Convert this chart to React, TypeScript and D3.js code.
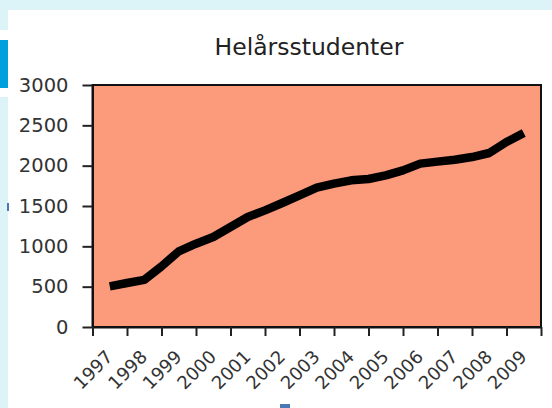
import { useEffect, useRef } from 'react';
import * as d3 from 'd3';

const years = ['1997', '1998', '1999', '2000', '2001', '2002', '2003', '2004', '2005', '2006', '2007', '2008', '2009'];
// half-year points, 1997 .. 2009
const periods = [
  1997, 1997.5, 1998, 1998.5, 1999, 1999.5, 2000, 2000.5, 2001, 2001.5, 2002, 2002.5, 2003,
  2003.5, 2004, 2004.5, 2005, 2005.5, 2006, 2006.5, 2007, 2007.5, 2008, 2008.5, 2009,
];
const students = [
  504, 545, 585, 752, 938, 1033, 1116, 1240, 1364, 1446, 1537, 1632, 1727,
  1777, 1818, 1835, 1880, 1942, 2025, 2050, 2074, 2107, 2157, 2293, 2405,
];
const yTicks = [0, 500, 1000, 1500, 2000, 2500, 3000];

const App = () => {
  const svgRef = useRef<SVGSVGElement>(null);

  useEffect(() => {
    const svg = d3.select(svgRef.current);
    svg.selectAll('*').remove();

    const margin = { top: 85, right: 11, bottom: 81, left: 92.5 };
    const W = 552;
    const H = 408;
    const font = 'DejaVu Sans, Verdana, sans-serif';

    // page background bits around the chart
    svg.append('rect').attr('x', 0).attr('y', 0).attr('width', W).attr('height', H).attr('fill', '#fff');
    svg.append('rect').attr('x', 0).attr('y', 0).attr('width', W).attr('height', 10).attr('fill', '#dcf3f8');
    svg.append('rect').attr('x', 0).attr('y', 0).attr('width', 8).attr('height', 30).attr('fill', '#dcf3f8');
    svg.append('rect').attr('x', 0).attr('y', 40).attr('width', 8).attr('height', 48).attr('fill', '#00a0dc');
    svg.append('rect').attr('x', 0).attr('y', 97).attr('width', 8).attr('height', H - 97).attr('fill', '#dcf3f8');
    svg.append('rect').attr('x', 7).attr('y', 203).attr('width', 2).attr('height', 8).attr('fill', '#4a78b5');
    svg.append('rect').attr('x', 280).attr('y', 404).attr('width', 10).attr('height', 4).attr('fill', '#4a78b5');

    const x = d3.scaleLinear()
      .domain([1996.5, 2009.5])
      .range([margin.left, W - margin.right]);

    const y = d3.scaleLinear()
      .domain([0, 3000])
      .range([H - margin.bottom, margin.top]);

    // plot area
    svg.append('rect')
      .attr('x', x(1996.5))
      .attr('y', y(3000))
      .attr('width', x(2009.5) - x(1996.5))
      .attr('height', y(0) - y(3000))
      .attr('fill', '#fc9a7c')
      .attr('stroke', '#111')
      .attr('stroke-width', 2);

    svg.append('text')
      .attr('x', 309)
      .attr('y', 55)
      .attr('text-anchor', 'middle')
      .attr('font-family', font)
      .attr('font-size', 23.5)
      .attr('fill', '#222')
      .text('Helårsstudenter');

    const yAxis = svg.append('g')
      .attr('transform', `translate(${margin.left}, 0)`)
      .call(d3.axisLeft(y).tickValues(yTicks).tickFormat(d3.format('d')).tickSize(10).tickPadding(14).tickSizeOuter(0));
    yAxis.select('.domain').attr('stroke', '#111').attr('stroke-width', 2);
    yAxis.selectAll('.tick line').attr('stroke', '#222').attr('stroke-width', 2);
    yAxis.selectAll('.tick text')
      .attr('font-family', font)
      .attr('font-size', 19.5)
      .attr('fill', '#333');

    const boundaries = d3.range(0, years.length + 1).map(i => 1996.5 + i);
    const xAxis = svg.append('g')
      .attr('transform', `translate(0, ${H - margin.bottom})`)
      .call(d3.axisBottom(x).tickValues(boundaries).tickSize(9).tickFormat(() => '').tickSizeOuter(0));
    xAxis.select('.domain').attr('stroke', '#111').attr('stroke-width', 2);
    xAxis.selectAll('.tick line').attr('stroke', '#222').attr('stroke-width', 2);

    svg.append('g')
      .selectAll('text')
      .data(years)
      .enter().append('text')
      .attr('transform', d => `translate(${x(+d) + 4}, ${H - margin.bottom + 31}) rotate(-45)`)
      .attr('text-anchor', 'end')
      .attr('font-family', font)
      .attr('font-size', 18)
      .attr('fill', '#333')
      .text(d => d);

    const line = d3.line<number>()
      .x((_, i) => x(periods[i]))
      .y(d => y(d));

    svg.append('path')
      .datum(students)
      .attr('fill', 'none')
      .attr('stroke', '#000')
      .attr('stroke-width', 8.5)
      .attr('stroke-linejoin', 'round')
      .attr('d', line);
  }, []);

  return (
    <div>
      <svg ref={svgRef} width={552} height={408} style={{ position: 'absolute', left: 0, top: 0 }} />
    </div>
  );
};

export default App;
